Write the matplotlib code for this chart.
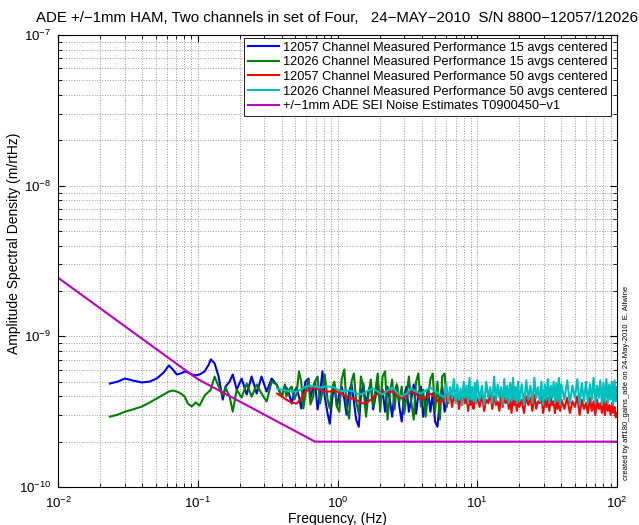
import numpy as np
import matplotlib
matplotlib.use("Agg")
from matplotlib import pyplot as plt
from matplotlib.ticker import NullFormatter

# frequency grids (Hz)
freq_15_low = [0.0235, 0.0268, 0.0301, 0.0343, 0.0398, 0.0454, 0.0509, 0.0571, 0.0621, 0.0662,
               0.0708, 0.0757, 0.0807, 0.0849, 0.0906, 0.0968, 0.103, 0.112, 0.120, 0.124,
               0.132, 0.141, 0.151, 0.158, 0.169, 0.178, 0.190, 0.206, 0.224, 0.243,
               0.264, 0.286, 0.311, 0.338, 0.366]
freq_15_high = [0.40, 0.42, 0.43, 0.45, 0.47, 0.49, 0.51, 0.53, 0.55, 0.57,
                0.59, 0.62, 0.64, 0.67, 0.69, 0.72, 0.75, 0.78, 0.81, 0.85,
                0.88, 0.92, 0.95, 0.99, 1.03, 1.07, 1.12, 1.16, 1.21, 1.26,
                1.31, 1.36, 1.42, 1.47, 1.53, 1.60, 1.66, 1.73, 1.80, 1.87,
                1.94, 2.02, 2.10, 2.19, 2.28, 2.37, 2.46, 2.56, 2.66, 2.77,
                2.88, 3.00, 3.12, 3.24, 3.37, 3.51, 3.65, 3.79, 3.95, 4.10,
                4.27, 4.44, 4.62, 4.80, 4.99, 5.19, 5.40, 5.62, 5.84, 6.07]
freq_50_low = [0.37, 0.40, 0.43, 0.47, 0.51, 0.55, 0.59, 0.64, 0.69, 0.75,
               0.81, 0.88, 0.95, 1.03, 1.12, 1.21, 1.31, 1.42, 1.53, 1.66,
               1.80, 1.94, 2.10, 2.28, 2.46, 2.66, 2.88, 3.12, 3.37, 3.65,
               3.95, 4.27, 4.62, 5.00, 5.40, 5.84]
freq_50_high = [6.0, 6.2, 6.4, 6.6, 6.8, 7.0, 7.2, 7.4, 7.6, 7.8,
                8.0, 8.2, 8.4, 8.6, 8.8, 9.0, 9.2, 9.4, 9.6, 9.8,
                10.0, 10.4, 10.8, 11.2, 11.6, 12.0, 12.4, 12.8, 13.2, 13.6,
                14.0, 14.4, 14.8, 15.2, 15.6, 16.0, 16.4, 16.8, 17.2, 17.6,
                18.0, 18.4, 18.8, 19.2, 19.6,
                20.0, 20.8, 21.6, 22.4, 23.2, 24.0, 24.8, 25.6, 26.4, 27.2,
                28.0, 28.8, 29.6, 30.4, 31.2, 32.0, 32.8, 33.6, 34.4, 35.2,
                36.0, 36.8, 37.6, 38.4, 39.2,
                40, 42, 44, 46, 48, 50, 52, 54, 56, 58,
                60, 62, 64, 66, 68, 70, 72, 74, 76, 78,
                80, 82, 84, 86, 88, 90, 92, 94, 96, 98, 100]

# amplitude spectral density, in units of 1e-10 m/rtHz
asd_12057_15_low = [4.86, 5.01, 5.25, 5.09, 4.94, 5.01, 5.25, 5.76, 6.41, 6.03,
                    5.58, 5.67, 5.85, 5.76, 5.58, 5.50, 5.58, 5.85, 6.5, 7.03,
                    6.62, 5.41, 3.80, 4.64, 5.01, 5.58, 4.43, 5.25, 4.11, 5.41,
                    4.17, 5.41, 4.30, 5.25, 4.79]
asd_12057_15_high = [3.98, 4.64, 4.57, 4.17, 3.58, 4.30, 4.57, 3.98, 3.32, 4.17,
                     5.01, 5.25, 3.87, 4.64, 5.01, 3.27, 4.17, 5.85, 3.98, 3.06,
                     2.63, 3.98, 4.79, 3.42, 4.17, 4.64, 3.80, 3.02, 4.30, 4.79,
                     3.69, 2.80, 2.51, 3.98, 4.86, 3.42, 4.30, 4.79, 3.27, 3.98,
                     5.01, 3.58, 4.43, 3.16, 4.64, 3.80, 2.93, 4.30, 4.79, 3.42,
                     2.72, 3.98, 4.64, 3.16, 3.80, 4.79, 3.06, 4.17, 4.64, 2.93,
                     3.69, 4.43, 3.16, 4.17, 2.72, 2.51, 3.80, 4.64, 3.16, 3.69]
asd_12026_15_low = [2.93, 3.02, 3.16, 3.27, 3.42, 3.64, 3.87, 4.11, 4.30, 4.37,
                    4.30, 4.17, 3.98, 3.58, 3.42, 3.64, 3.47, 4.05, 4.30, 4.43,
                    5.41, 4.64, 4.05, 4.57, 3.98, 3.16, 4.43, 3.92, 4.86, 3.98,
                    4.79, 4.17, 3.69, 5.01, 4.79]
asd_12026_15_high = [3.98, 4.79, 3.98, 4.43, 4.64, 3.80, 4.17, 5.85, 5.01, 3.32,
                     4.17, 5.17, 3.53, 3.98, 5.01, 5.41, 3.58, 4.30, 5.58, 3.80,
                     3.32, 4.64, 5.01, 3.42, 3.16, 5.17, 6.03, 3.42, 2.84, 5.01,
                     5.67, 3.69, 3.06, 5.41, 4.64, 2.93, 3.98, 5.17, 3.42, 4.43,
                     5.67, 3.16, 5.41, 5.85, 2.80, 4.17, 5.17, 3.27, 4.79, 3.69,
                     4.64, 3.06, 3.98, 5.41, 3.69, 2.80, 5.01, 5.67, 3.42, 4.43,
                     2.93, 3.98, 5.17, 5.67, 3.16, 5.01, 2.80, 5.41, 5.67, 3.42]
asd_12057_50_low = [4.17, 3.98, 3.80, 3.63, 3.58, 3.87, 4.30, 4.50, 4.57, 4.43,
                    4.30, 4.30, 4.37, 4.23, 4.05, 3.87, 3.87, 3.69, 3.58, 3.69,
                    3.92, 4.17, 4.30, 4.23, 4.30, 4.11, 3.87, 4.05, 4.37, 4.17,
                    3.80, 3.92, 4.17, 3.92, 3.58, 3.92]
asd_12057_50_high = [4.1, 3.6, 4.3, 3.4, 4.0, 3.7, 4.2, 3.3, 3.9, 3.5,
                     4.4, 3.6, 4.0, 3.2, 4.1, 3.5, 3.8, 3.3, 4.2, 3.6,
                     3.9, 3.4, 4.1, 3.2, 3.8, 3.6, 4.2, 3.3, 4.0, 3.5,
                     3.7, 3.2, 4.1, 3.4, 3.9, 3.6, 4.0, 3.3, 3.8, 3.1,
                     4.1, 3.5, 3.9, 3.2, 4.0,
                     3.4, 3.8, 3.1, 4.0, 3.5, 3.9, 3.2, 4.1, 3.3, 3.7,
                     3.6, 4.0, 3.1, 3.8, 3.4, 3.9, 3.2, 4.0, 3.5, 3.7,
                     3.1, 3.9, 3.3, 4.0, 3.2,
                     3.8, 3.3, 3.9, 3.1, 3.7, 3.4, 4.0, 3.0, 3.8, 3.3,
                     3.6, 3.1, 3.9, 3.2, 3.7, 3.0, 3.8, 3.3, 3.6, 3.1,
                     3.8, 3.0, 3.7, 3.2, 3.5, 3.0, 3.6, 3.1, 3.4, 2.9, 3.1]
asd_12026_50_low = [4.50, 4.43, 4.37, 4.30, 4.30, 4.43, 4.64, 4.71, 4.64, 4.57,
                    4.64, 4.64, 4.57, 4.37, 4.30, 4.37, 4.30, 4.11, 4.17, 4.37,
                    4.50, 4.30, 4.11, 4.37, 4.57, 4.23, 3.98, 4.17, 4.50, 4.30,
                    4.17, 4.37, 4.57, 4.30, 4.11, 3.92]
asd_12026_50_high = [4.9, 3.7, 4.6, 3.9, 5.2, 3.6, 4.8, 3.8, 4.5, 3.5,
                     5.0, 3.9, 4.7, 3.6, 5.3, 3.8, 4.6, 3.7, 4.9, 3.6,
                     5.1, 3.8, 4.7, 3.5, 5.0, 3.9, 4.6, 3.6, 5.4, 3.7,
                     4.8, 3.9, 4.6, 3.5, 5.2, 3.8, 4.7, 3.6, 4.9, 3.7,
                     5.3, 3.8, 4.6, 3.6, 5.0,
                     3.7, 4.8, 3.5, 5.1, 3.8, 4.7, 3.6, 5.3, 3.9, 4.6,
                     3.7, 5.0, 3.5, 4.8, 3.8, 5.2, 3.6, 4.7, 3.9, 5.0,
                     3.6, 4.9, 3.7, 5.3, 3.5,
                     4.8, 3.8, 5.1, 3.6, 4.7, 3.9, 5.2, 3.5, 4.9, 3.7,
                     5.0, 3.6, 4.8, 3.8, 5.3, 3.6, 4.7, 3.9, 5.1, 3.5,
                     4.9, 3.7, 5.2, 3.6, 4.8, 3.8, 5.0, 3.5, 5.1, 3.7, 4.6]

# SEI noise estimate (m/rtHz)
sei_freq = [0.01, 0.1, 0.69, 100]
sei_asd = [2.45e-9, 5.2e-10, 2.0e-10, 2.0e-10]

labels = ["12057 Channel Measured Performance 15 avgs centered",
          "12026 Channel Measured Performance 15 avgs centered",
          "12057 Channel Measured Performance 50 avgs centered",
          "12026 Channel Measured Performance 50 avgs centered",
          "+/\u22121mm ADE SEI Noise Estimates T0900450\u2212v1"]
colors = [(0, 0, 1), (0, 0.5, 0), (1, 0, 0), (0, 0.75, 0.75), (0.75, 0, 0.75)]

plt.rcParams['font.family'] = ['Liberation Sans', 'DejaVu Sans']
plt.rcParams['mathtext.fontset'] = 'custom'
plt.rcParams['mathtext.rm'] = 'Liberation Sans'
plt.rcParams['mathtext.it'] = 'Liberation Sans'

fig = plt.figure(figsize=(6.39, 5.25), dpi=100)
ax = fig.add_axes([58 / 639, 38 / 525, 559 / 639, 452 / 525])

scale = 1e-10
series = [
    (freq_15_low + freq_15_high, asd_12057_15_low + asd_12057_15_high),
    (freq_15_low + freq_15_high, asd_12026_15_low + asd_12026_15_high),
    (freq_50_low + freq_50_high, asd_12057_50_low + asd_12057_50_high),
    (freq_50_low + freq_50_high, asd_12026_50_low + asd_12026_50_high),
]
for (f, a), c, lab in zip(series, colors, labels):
    ax.loglog(f, np.array(a) * scale, color=c, lw=1.5, label=lab)
ax.loglog(sei_freq, sei_asd, color=colors[4], lw=1.5, label=labels[4])

ax.set_xlim(1e-2, 1e2)
ax.set_ylim(1e-10, 1e-7)
ax.xaxis.set_minor_formatter(NullFormatter())
ax.yaxis.set_minor_formatter(NullFormatter())
ax.grid(True, which='both', linestyle=':', color='0.6', linewidth=0.7)
ax.tick_params(which='both', direction='in', top=True, right=True, labelsize=9.5)
ax.tick_params(which='major', length=5)
ax.tick_params(which='minor', length=3)
ax.tick_params(axis='x', which='both', pad=6)
ax.tick_params(axis='y', which='both', pad=5)
for s in ax.spines.values():
    s.set_linewidth(0.8)

ax.set_title("ADE +/\u22121mm HAM, Two channels in set of Four,   24\u2212MAY\u22122010  "
             "S/N 8800\u221212057/12026", fontsize=10.8, pad=9)
ax.set_xlabel("Frequency, (Hz)", fontsize=10, labelpad=1)
ax.set_ylabel("Amplitude Spectral Density (m/rtHz)", fontsize=10)
ax.yaxis.set_label_coords(-0.066, 0.54)

leg = ax.legend(loc='upper right', bbox_to_anchor=(1 - 6 / 559, 1 - 3 / 452),
                borderaxespad=0, fontsize=9.2, fancybox=False, framealpha=1,
                edgecolor='black', handlelength=2.4, handletextpad=0.3,
                labelspacing=0.2, borderpad=0.3)
leg.get_frame().set_linewidth(0.6)

fig.text(627 / 639, 1 - 383 / 525, "created by aff180_gains_ade on 24-May-2010  E. Allwine",
         rotation=90, fontsize=5.5, ha='center', va='center')

fig.savefig("out.png", dpi=100)
